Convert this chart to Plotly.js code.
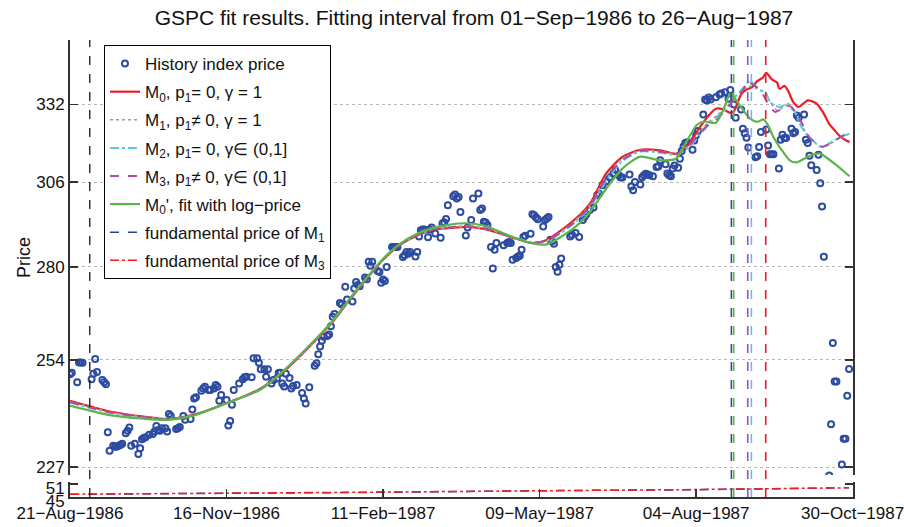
<!DOCTYPE html>
<html>
<head>
<meta charset="utf-8">
<script src="https://cdn.plot.ly/plotly-3.0.1.min.js"></script>
<style>html,body{margin:0;padding:0;background:#fff;}#chart{width:904px;height:527px;}</style>
</head>
<body>
<div id="chart"></div>
<script>
// ---- data (x as days since 21-Aug-1986) ----
const histDay = [0,1,4,5,6,7,12,13,14,15,18,19,20,21,22,24,25,26,27,28,29,31,32,33,34,36,38,39,40,41,42,44,46,47,48,49,50,51,53,54,55,56,59,60,61,63,64,67,68,69,70,73,74,75,77,78,80,81,82,83,84,87,88,89,90,91,94,96,97,98,101,102,104,105,106,108,109,110,112,113,115,116,117,118,119,120,122,123,124,126,129,130,131,133,136,137,138,139,140,141,143,144,145,146,147,150,151,153,154,157,158,159,160,161,164,165,166,167,168,171,172,173,174,175,176,179,180,181,182,185,186,187,188,189,192,193,194,195,196,197,199,200,201,203,206,207,208,209,210,213,214,215,216,217,220,221,223,224,227,228,229,230,231,232,234,235,236,237,241,243,244,245,246,248,249,250,251,252,253,256,257,258,259,260,263,264,265,266,267,268,269,270,271,272,273,278,279,281,283,285,286,287,289,291,293,294,296,298,300,302,303,305,306,307,311,312,313,314,317,318,319,320,321,322,324,326,327,328,331,332,333,334,335,336,338,339,340,341,342,343,346,347,348,349,352,353,354,355,356,359,361,362,364,366,367,369,370,373,374,375,376,377,381,382,383,384,387,388,389,390,391,394,395,396,397,398,401,402,403,404,405,408,409,410,411,412,415,416,417,418,419,422,423,424,425,426,429,430,431,432,433];
const histPrice = [250.2,250.6,248.1,253.3,253.3,253.2,248.9,250.3,254.2,250.8,248.7,248.1,247.6,235.4,230.9,232.1,231.9,231.9,232.1,232.3,232.6,235.2,235.8,236.6,232.1,232.6,230.1,231.5,233.7,234.0,234.2,234.8,235.0,235.6,237.0,236.0,235.8,236.4,236.4,235.6,240.0,239.5,236.2,236.4,236.7,239.5,238.5,238.7,241.1,243.9,244.2,245.9,246.5,246.9,246.1,246.1,246.5,247.4,246.9,243.3,244.8,243.5,237.1,238.2,242.3,246.1,247.8,248.9,249.4,249.5,249.4,254.4,254.4,253.2,251.5,251.5,249.5,251.5,247.8,248.7,249.1,250.5,250.6,247.8,247.0,250.3,249.2,246.5,247.1,247.4,245.3,243.9,242.6,246.8,252.4,253.1,255.5,257.6,259.1,260.2,260.4,260.8,263.1,265.7,266.5,269.6,269.2,274.2,270.6,270.0,273.7,275.6,274.7,274.4,276.9,276.4,281.5,280.3,281.5,278.8,278.5,275.4,276.3,275.9,280.0,285.9,285.9,285.9,285.9,282.9,283.4,284.4,283.9,284.4,283.1,284.4,289.1,291.0,291.2,291.2,288.8,291.2,291.8,290.0,288.7,293.0,293.4,294.4,298.7,301.5,302.1,300.8,301.3,296.6,289.4,291.8,294.1,300.8,302.4,297.2,297.7,293.6,293.3,292.6,285.9,279.5,285.1,287.1,286.4,287.1,287.4,287.1,282.1,282.6,283.1,283.3,285.1,288.9,289.3,289.9,295.9,295.6,294.9,294.3,292.1,294.1,294.6,295.0,288.1,287.6,286.9,280.0,278.6,280.6,282.5,289.1,289.6,290.1,288.9,294.1,295.1,295.9,297.2,298.0,301.8,302.4,305.0,306.3,307.6,308.8,310.0,308.2,307.5,307.5,308.5,304.6,303.4,306.1,305.3,307.6,308.2,308.7,308.5,308.2,307.9,310.9,311.1,313.1,311.8,308.8,308.2,307.9,310.4,311.4,310.7,313.6,316.2,317.7,318.8,319.1,316.6,319.7,321.4,322.9,328.5,333.7,333.4,334.4,333.7,334.5,335.5,335.8,336.3,334.0,337.1,332.0,327.4,330.2,323.6,322.1,320.6,317.3,314.1,314.4,317.5,322.5,323.4,318.0,315.1,315.1,315.1,310.4,319.9,321.6,320.5,320.5,323.6,322.1,322.5,328.2,327.4,328.5,319.9,318.8,314.6,311.5,309.9,314.9,305.7,298.3,283.0,225.0,237.4,258.5,248.3,248.3,227.6,233.8,233.8,244.6,251.6];

const fitDayPre = [0,22,41,54,68,87,106,118,137,146,156,165,174,183,193,202,211,220,230,239,248,257,265,280,289,298,307,317,328,337,344,350,355,359,363,367];
const m0Day = fitDayPre.concat([369,373,376,379,382,385,387,390,393,394.4,397,399,402,405,407,410,412,415,418.5,422,425,428,431.5,433.3]);
const m0Price = [243.3,240.6,239.3,238.7,239.7,242.7,246.5,250.6,259.5,264.3,270.9,276.6,282.1,286.4,289.4,291.2,291.6,292.0,291.4,290.0,288.4,287.1,288.0,294.0,299.2,308.8,314.2,316.6,316.4,315.3,318.6,324.1,328.2,330.5,330.3,329.1,
  329.6,335.5,337.2,338.0,340.2,341.4,343.2,340.9,339.7,337.4,338.5,336.9,332.8,331.1,332.0,333.4,333.2,332.3,329.3,325.3,323.1,321.1,319.7,319.2];
const m1Day = fitDayPre.concat([369,374,378,382,386,389,393,398,402,405,409,413,417,421,427,433.3]);
const m1Price = [243.2,240.5,239.2,238.6,239.6,242.7,246.5,250.6,259.5,264.3,270.9,276.6,282.1,286.4,289.5,291.3,291.7,292.1,291.5,290.1,288.5,287.2,287.9,293.6,298.8,308.0,313.7,316.4,316.1,315.2,318.0,322.8,326.0,328.0,330.0,332.5,
  334.5,337.0,338.5,337.5,336.0,333.0,330.0,331.5,330.0,327.0,322.5,319.5,317.8,318.0,320.3,322.0];
const m2Day = fitDayPre.concat([369,374.5,378,380.5,384,386.7,389,394.4,399,403,405.6,409,412.9,416.7,420,426,431.5,433.3]);
const m2Price = [242.9,240.3,239.1,238.6,239.6,242.7,246.4,250.7,259.6,264.4,271.0,276.7,282.2,286.5,289.6,291.4,291.9,292.3,291.7,290.3,288.6,287.3,287.6,293.0,298.0,306.5,312.8,316.0,315.6,315.0,317.5,321.5,325.0,327.5,329.5,332.0,
  334.0,338.1,340.4,338.7,336.9,336.3,332.8,331.1,332.2,329.3,325.3,321.9,319.7,317.6,318.0,320.2,321.6,321.8];
const m3Day = fitDayPre.concat([369,374,377,379,383,386.5,389,392,394,398,401,403.7,407,411,415,418.5,422,428,433.3]);
const m3Price = [243.0,240.4,239.2,238.6,239.6,242.7,246.4,250.6,259.5,264.3,270.9,276.6,282.1,286.5,289.5,291.3,291.8,292.2,291.6,290.2,288.5,287.2,287.8,293.3,298.4,307.2,313.2,316.2,315.9,315.2,317.8,322.1,325.2,326.5,329.2,332.0,
  334.0,336.9,340.4,339.2,337.5,334.0,331.1,329.4,329.9,331.7,331.1,328.8,325.3,320.7,318.5,317.6,318.5,320.7,322.8];
const m0lDay = [0,22,41,54,68,87,106,118,137,146,156,165,174,183,193,202,211,220,230,239,248,257,265,280,289,298,307,317,328,337,343,348.5,353,356,359,363,367,369,373,378,382,385.5,388,391,395,400,403.7,408.3,413,417,420,426,431.5,433.3];
const m0lPrice = [242.1,239.7,238.8,238.5,239.5,242.7,246.2,250.8,259.8,264.6,271.2,276.9,282.4,286.7,289.9,291.7,292.7,293.1,292.4,290.5,288.5,287.0,286.7,291.6,296.6,303.9,310.4,314.3,313.1,313.7,319.7,325.0,326.1,325.7,325.7,329.9,335.8,334.5,331.1,327.1,326.0,326.8,324.8,320.8,317.0,313.1,312.4,313.7,315.0,315.3,314.2,311.5,308.8,307.9];

const fundDay = [0,87,174,261,348,433];
const fundM1 = [46.26,46.73,47.19,47.94,48.41,49.34];
const fundM3 = [46.30,46.80,47.30,47.90,48.50,49.30];

const fitStartDay = 11;
const tcDay = [367.6,368.9,376.7,378.7,386.7];
const tcColor = ['#3c4a86','#5cb54a','#b04aa5','#5bc8e0','#ee1d23'];

const tickDay = [0,87,174,261,348,435];
const tickText = ['21\u2212Aug\u22121986','16\u2212Nov\u22121986','11\u2212Feb\u22121987','09\u2212May\u22121987','04\u2212Aug\u22121987','30\u2212Oct\u22121987'];
const yTicks = [227,254,280,306,332];
const y2Ticks = [45,51];

// ---- helpers ----
function dayToDate(d){
  const s = new Date(Date.UTC(1986,7,21) + d*86400000).toISOString();
  return s.slice(0,10) + ' ' + s.slice(11,19);
}
const D = a => a.map(dayToDate);

const FONT = 'Liberation Sans, Arial, Helvetica, sans-serif';
let gi = 0;
function lineTrace(name, days, vals, color, dash, width, yaxis){
  gi++;
  return {type:'scatter', mode:'lines', name:name, x:D(days), y:vals, yaxis:yaxis||'y',
    legendgroup:'g'+gi,
    line:{color:color, dash:dash, width:width, shape:'spline', smoothing:0.7}};
}

const traces = [
  {type:'scatter', mode:'markers', name:'History index price', x:D(histDay), y:histPrice, legendgroup:'g0',
   marker:{symbol:'circle-open', size:6, color:'#2d4ba0', line:{width:2, color:'#2d4ba0'}}},
  lineTrace('M<sub>0</sub>, p<sub>1</sub>= 0, \u03b3 = 1', m0Day, m0Price, '#ee1d23', 'solid', 2.2),
  lineTrace('M<sub>1</sub>, p<sub>1</sub>\u2260 0, \u03b3 = 1', m1Day, m1Price, '#9a9a9a', 'dot', 1.5),
  lineTrace('M<sub>2</sub>, p<sub>1</sub>= 0, \u03b3\u2208 (0,1]', m2Day, m2Price, '#5bc8e0', 'dashdot', 2),
  lineTrace('M<sub>3</sub>, p<sub>1</sub>\u2260 0, \u03b3\u2208 (0,1]', m3Day, m3Price, '#b04aa5', 'dash', 2),
  lineTrace("M<sub>0</sub>', fit with log\u2212price", m0lDay, m0lPrice, '#5cb54a', 'solid', 2.2),
  lineTrace('fundamental price of M<sub>1</sub>', fundDay, fundM1, '#2d3f9e', 'dash', 1.5, 'y2'),
  lineTrace('fundamental price of M<sub>3</sub>', fundDay, fundM3, '#ee1d23', 'dashdot', 1.5, 'y2')
];

const shapes = [{type:'line', xref:'x', yref:'paper', x0:dayToDate(fitStartDay), x1:dayToDate(fitStartDay), y0:0, y1:1,
  line:{color:'#000', width:1.2, dash:'dash'}}];
tcDay.forEach((d,i)=>shapes.push({type:'line', xref:'x', yref:'paper', x0:dayToDate(d), x1:dayToDate(d), y0:0, y1:1,
  line:{color:tcColor[i], width:1.6, dash:'dash'}}));

const axCommon = {showline:true, linecolor:'#333', linewidth:2, ticks:'inside', ticklen:8, tickwidth:1.5, tickcolor:'#333',
  zeroline:false, automargin:false, ticklabeloverflow:'allow', tickfont:{size:17, color:'#111'}};

const layout = {
  width:904, height:527,
  margin:{l:70, r:51, t:40, b:30, pad:0},
  paper_bgcolor:'#fff', plot_bgcolor:'#fff',
  font:{family:FONT, size:17, color:'#111'},
  title:{text:'GSPC fit results. Fitting interval from 01\u2212Sep\u22121986 to 26\u2212Aug\u22121987',
    font:{size:21, color:'#111'}, x:0.516, xref:'paper', xanchor:'center', y:1-18/527, yref:'container', yanchor:'middle'},
  showlegend:true,
  legend:{x:0.0434, y:0.989, xanchor:'left', yanchor:'top', bgcolor:'#fff', bordercolor:'#000', borderwidth:1,
    font:{size:17, color:'#111'}, tracegroupgap:3, traceorder:'grouped'},
  xaxis:Object.assign({}, axCommon, {type:'date', anchor:'y2', range:[dayToDate(0), dayToDate(435.2)],
    tickmode:'array', tickvals:D(tickDay), ticktext:tickText, showgrid:false}),
  yaxis:Object.assign({}, axCommon, {type:'log', anchor:'x', domain:[0.0481,1],
    range:[Math.log10(225.1), Math.log10(355.2)], tickmode:'array', tickvals:yTicks, ticktext:yTicks.map(String),
    mirror:'ticks', showgrid:true, gridcolor:'#b8b8b8', griddash:'dot', gridwidth:1,
    title:{text:'Price', font:{size:18, color:'#111'}, standoff:1}}),
  yaxis2:Object.assign({}, axCommon, {anchor:'x', domain:[0,0.0328], range:[45,52],
    tickmode:'array', tickvals:y2Ticks, ticktext:y2Ticks.map(String), mirror:'ticks', showgrid:false, ticklabelshift:4}),
  shapes:shapes
};

Plotly.newPlot('chart', traces, layout, {displayModeBar:false, staticPlot:true});
</script>
</body>
</html>
